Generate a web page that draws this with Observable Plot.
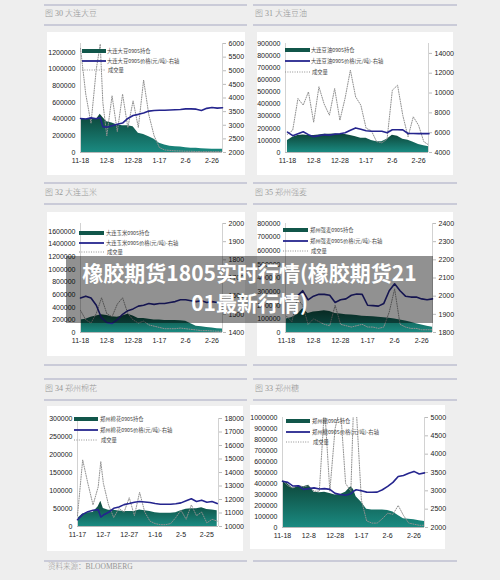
<!DOCTYPE html>
<html><head><meta charset="utf-8">
<script src="https://cdn.jsdelivr.net/npm/d3@7"></script>
<script src="https://cdn.jsdelivr.net/npm/@observablehq/plot@0.6"></script>
<style>
html,body{margin:0;padding:0;}
body{width:500px;height:580px;background:#eeeeee;position:relative;overflow:hidden;font-family:"Noto Sans CJK SC",sans-serif;}
.hr{position:absolute;height:1.5px;background:#cacbd8;}
.ttl{position:absolute;font-size:8px;line-height:10px;color:#959595;white-space:nowrap;font-weight:300;font-family:"Liberation Serif","Noto Sans CJK SC",serif;}
.panel{position:absolute;background:#fff;}
.panel svg{position:absolute;left:0;top:0;}
.band{position:absolute;left:66px;top:256px;width:367px;height:67px;background:rgba(0,0,0,0.43);}
.big{position:absolute;left:66px;top:257px;width:367px;text-align:center;color:#fff;font-weight:bold;font-size:21px;line-height:30px;font-family:"Noto Sans CJK SC",sans-serif;}
</style>
</head><body>
<script>
// ---------- shared tick data ----------
const xTickDays = [0, 20, 40, 60, 80, 100];
const xLabelsA = ["11-18", "12-8", "12-28", "1-17", "2-6", "2-26"];
const xLabelsB = ["11-17", "12-7", "12-27", "1-16", "2-5", "2-25"];
const legendKinds = ["0905持仓", "0905价格(元/吨)-右轴", "成交量"];

// ---------- 图30 大连大豆 ----------
const c1Title = "图 30  大连大豆";
const c1Name = "大连大豆";
const c1Days = [0,4,8,12,15,17,20,24,28,32,36,40,44,48,52,56,60,64,68,72,76,80,84,88,92,96,100,104,108];
const c1Oi = [405,400,400,395,460,420,370,355,330,320,320,310,230,215,190,160,110,90,75,70,65,58,52,50,45,42,40,40,40];
const c1Price = [3250,3230,3270,3240,3280,2950,2930,2980,3040,3080,3250,3360,3400,3450,3520,3540,3550,3550,3560,3570,3580,3600,3600,3590,3540,3620,3650,3630,3640];
const c1Vol = [1250,700,350,1000,1300,600,200,680,250,700,300,620,300,870,450,200,60,30,25,20,18,15,15,12,10,10,10,10,10];
const c1LeftTicks = [0,200000,400000,600000,800000,1000000,1200000];
const c1RightTicks = [2000,2500,3000,3500,4000,4500,5000,5500,6000];

// ---------- 图31 大连豆油 ----------
const c2Title = "图 31  大连豆油";
const c2Name = "大连豆油";
const c2Days = [0,4,8,12,16,20,24,28,32,36,40,44,48,52,56,60,64,68,72,76,80,84,88,92,96,100,104,108];
const c2Oi = [100,125,140,145,140,140,145,150,150,152,150,148,140,130,118,117,100,88,88,110,143,135,110,102,85,66,55,47];
const c2Price = [6050,5700,5900,6090,5800,5600,5700,5800,5750,5850,5900,6000,6250,6480,6350,6200,6150,6150,6150,6000,6300,6300,6280,5920,5920,5900,5900,5900];
const c2Vol = [150,184,446,391,501,250,542,400,308,528,266,450,680,460,390,200,180,90,80,110,514,556,306,130,295,225,90,60];
const c2LeftTicks = [0,100000,200000,300000,400000,500000,600000,700000,800000,900000];
const c2RightTicks = [4000,6000,8000,10000,12000,14000];

// ---------- 图32 大连玉米 ----------
const c3Title = "图 32  大连玉米";
const c3Name = "大连玉米";
const c3Days = [0,4,8,12,16,20,24,28,32,36,40,44,48,52,56,60,64,68,72,76,80,84,88,92,96,100,104,108];
const c3Oi = [200,210,240,260,280,270,250,240,260,290,260,220,220,210,200,200,190,190,190,185,180,140,100,90,80,70,60,55];
const c3Price = [1590,1600,1590,1550,1480,1455,1450,1470,1500,1520,1530,1545,1550,1560,1555,1560,1560,1565,1570,1580,1580,1575,1570,1575,1565,1570,1565,1565];
const c3Vol = [350,200,150,300,550,300,250,450,550,300,200,150,180,120,100,80,60,60,60,70,60,50,40,30,30,25,20,20];
const c3LeftTicks = [0,200000,400000,600000,800000,1000000,1200000,1400000,1600000];
const c3RightTicks = [1400,1500,1600,1700,1800,1900,2000];

// ---------- 图35 郑州强麦 ----------
const c4Title = "图 35  郑州强麦";
const c4Name = "郑州强麦";
const c4Days = [0,4,8,12,16,20,24,28,32,36,40,44,48,52,56,60,64,68,72,76,80,84,88,92,96,100,104,108];
const c4Oi = [100,110,130,175,140,150,155,160,155,140,135,130,128,125,120,118,115,112,108,105,100,92,85,75,65,55,45,38];
const c4Price = [1995,1990,2000,2030,1980,2000,2010,2010,2005,1965,1980,1985,2005,2012,2010,1950,1948,1945,1960,2030,2068,2030,2000,1995,1995,1985,1980,1985];
const c4Vol = [120,80,250,200,60,100,80,60,50,200,60,50,40,50,60,40,40,30,40,150,320,60,40,30,30,20,20,20];
const c4LeftTicks = [0,100000,200000,300000,400000,500000,600000,700000,800000];
const c4RightTicks = [1800,1900,2000,2100,2200,2300,2400];

// ---------- 图34 郑州棉花 ----------
const c5Title = "图 34  郑州棉花";
const c5Name = "郑州棉花";
const c5Days = [0,4,8,12,16,18,20,24,28,32,36,40,44,48,52,56,60,64,68,72,76,80,84,88,92,96,100,104,108];
const c5Oi = [22,35,38,39,55,70,50,45,45,43,42,42,42,46,44,42,38,37,37,37,38,44,48,49,49,52,47,46,44];
const c5Price = [10500,10900,11100,11200,11250,10700,10850,11050,11350,11450,11620,11700,11800,11850,11820,11780,11700,11650,11650,11650,11680,11750,11900,12050,11850,11950,11800,11850,11700];
const c5Vol = [30,185,120,60,110,180,120,60,25,50,40,80,30,95,40,15,8,5,5,8,25,45,20,60,30,40,10,20,15];
const c5LeftTicks = [0,50000,100000,150000,200000,250000,300000];
const c5RightTicks = [10000,11000,12000,13000,14000,15000,16000,17000,18000];

// ---------- 图33 郑州糖 ----------
const c6Title = "图 33  郑州糖";
const c6Name = "郑州糖";
const c6Days = [0,4,8,12,16,20,24,28,32,36,40,44,48,52,54,56,60,64,68,72,76,80,84,88,92,96,100,104,108];
const c6Oi = [425,395,355,380,370,385,320,315,320,310,295,300,320,370,345,280,230,165,160,160,160,155,140,110,80,75,70,62,55];
const c6Price = [3260,3230,3130,3140,3040,3060,3080,3050,3060,3040,2930,2900,2880,2920,2990,3030,3000,2965,2960,2965,3030,3120,3230,3390,3420,3480,3530,3460,3490];
const c6Vol = [430,380,360,380,370,380,330,330,1100,330,900,1100,400,330,1100,1100,250,60,40,40,80,130,120,200,110,40,30,20,20];
const c6LeftTicks = [0,100000,200000,300000,400000,500000,600000,700000,800000,900000,1000000];
const c6RightTicks = [2000,2500,3000,3500,4000,4500,5000];

const sourceText = "资料来源：BLOOMBERG";
const overlayLines = ["橡胶期货1805实时行情(橡胶期货21", "01最新行情)"];

// ---------- layout helpers ----------
function el(tag, cls, style, text) {
  const e = document.createElement(tag);
  if (cls) e.className = cls;
  Object.assign(e.style, style || {});
  if (text != null) e.textContent = text;
  document.body.appendChild(e);
  return e;
}
function hr(x0, x1, y) { el("div", "hr", {left: x0 + "px", width: (x1 - x0) + "px", top: y + "px"}); }

// header lines
[[44,247],[253,457]].forEach(([a,b]) => {
  [4, 24, 182, 203, 364, 378, 399, 560].forEach(y => hr(a, b, y));
});
el("div", "ttl", {left: "45px", top: "9px"}, c1Title);
el("div", "ttl", {left: "255px", top: "9px"}, c2Title);
el("div", "ttl", {left: "45px", top: "188px"}, c3Title);
el("div", "ttl", {left: "255px", top: "188px"}, c4Title);
el("div", "ttl", {left: "45px", top: "384px"}, c5Title);
el("div", "ttl", {left: "255px", top: "384px"}, c6Title);
el("div", "ttl", {left: "48px", top: "562px", fontSize: "7.5px"}, sourceText);

function makeChart(c) {
  const panel = el("div", "panel", {left: c.x + "px", top: c.y + "px", width: c.w + "px", height: c.h + "px"});
  const lMax = c.lMax, rMin = c.rMin, rMax = c.rMax;
  const toL = p => (p - rMin) / (rMax - rMin) * lMax;
  const rows = c.days.map((d, i) => ({d, oi: c.oi[i] * 1000, p: toL(c.price[i]), v: c.vol[i] * 1000}));
  const rTicksL = c.rTicks.map(toL);
  const gid = "grad" + c.id;
  const svg = Plot.plot({
    width: c.w, height: c.h,
    marginLeft: c.m[0], marginRight: c.m[1], marginTop: c.m[2], marginBottom: c.m[3],
    style: {fontSize: "7px", fontFamily: "'Liberation Sans', Arial, sans-serif", color: "#222", background: "transparent", overflow: "visible"},
    x: {domain: c.xDomain, axis: null, label: null},
    y: {domain: [0, lMax], axis: null, label: null},
    marks: [
      Plot.areaY(rows, {x: "d", y: "oi", fill: `url(#${gid})`}),
      Plot.ruleY([0], {stroke: "#b8b8b8"}),
      Plot.ruleX(c.xDomain, {stroke: "#d2d2d2"}),
      Plot.lineY(rows, {x: "d", y: "v", stroke: "#909090", strokeWidth: 1, strokeDasharray: "1,1.4", clip: true}),
      Plot.lineY(rows, {x: "d", y: "p", stroke: "#25258e", strokeWidth: 1.6}),
      Plot.axisY({ticks: c.lTicks, tickSize: 0, tickPadding: 5, label: null, tickFormat: d => String(d)}),
      Plot.axisY({anchor: "right", ticks: rTicksL, tickSize: 3, tickPadding: 3, stroke: "#bbb", label: null,
        tickFormat: d => String(c.rTicks[rTicksL.findIndex(t => Math.abs(t - d) < 1e-6)])}),
      Plot.axisX({ticks: xTickDays, tickSize: 0, tickPadding: 6, label: null, tickFormat: d => c.xLabels[xTickDays.indexOf(d)]})
    ]
  });
  const g = d3.select(svg).insert("defs", ":first-child").append("linearGradient")
    .attr("id", gid).attr("x1", 0).attr("y1", 0).attr("x2", 0).attr("y2", 1);
  g.append("stop").attr("offset", "0%").attr("stop-color", "#0d4437");
  g.append("stop").attr("offset", "100%").attr("stop-color", "#1a8a81");
  panel.appendChild(svg);

  // legend
  const L = c.legend;
  const lg = d3.select(panel).append("svg").attr("width", c.w).attr("height", c.h)
    .style("position", "absolute").style("left", 0).style("top", 0);
  lg.append("rect").attr("x", L.x0).attr("y", L.ys[0] - 2).attr("width", L.x1 - L.x0).attr("height", 4).attr("fill", "#11564a");
  lg.append("line").attr("x1", L.x0).attr("x2", L.x1).attr("y1", L.ys[1]).attr("y2", L.ys[1]).attr("stroke", "#25258e").attr("stroke-width", 1.8);
  lg.append("line").attr("x1", L.x0).attr("x2", L.x1).attr("y1", L.ys[2]).attr("y2", L.ys[2]).attr("stroke", "#909090").attr("stroke-width", 1).attr("stroke-dasharray", "1,1.4");
  const labels = [c.name + legendKinds[0], c.name + legendKinds[1], legendKinds[2]];
  labels.forEach((t, i) => {
    lg.append("text").attr("x", L.tx + (i === 2 ? 1 : 0)).attr("y", L.ys[i]).attr("dy", "0.35em")
      .attr("font-size", 5.3).attr("fill", "#444").attr("font-family", "'Noto Sans CJK SC', sans-serif").text(t);
  });
}

makeChart({id: 1, x: 47, y: 32, w: 198, h: 143, m: [33, 23, 11, 23], xDomain: [0, 108],
  days: c1Days, oi: c1Oi, price: c1Price, vol: c1Vol, lMax: 1308000, rMin: 2000, rMax: 6000,
  lTicks: c1LeftTicks, rTicks: c1RightTicks, xLabels: xLabelsA, name: c1Name,
  legend: {x0: 35, x1: 59, ys: [19, 29, 38], tx: 60}});
makeChart({id: 2, x: 257, y: 32, w: 196, h: 143, m: [28, 25, 11, 23], xDomain: [-1.5, 107.6],
  days: c2Days, oi: c2Oi, price: c2Price, vol: c2Vol, lMax: 900000, rMin: 4000, rMax: 15000,
  lTicks: c2LeftTicks, rTicks: c2RightTicks, xLabels: xLabelsA, name: c2Name,
  legend: {x0: 28, x1: 53, ys: [18, 29, 40], tx: 54}});
makeChart({id: 3, x: 47, y: 212, w: 198, h: 144, m: [33, 23, 11, 24], xDomain: [0, 108],
  days: c3Days, oi: c3Oi, price: c3Price, vol: c3Vol, lMax: 1727000, rMin: 1400, rMax: 2000,
  lTicks: c3LeftTicks, rTicks: c3RightTicks, xLabels: xLabelsA, name: c3Name,
  legend: {x0: 32, x1: 57, ys: [21, 31, 40], tx: 59}});
makeChart({id: 4, x: 257, y: 212, w: 196, h: 144, m: [28, 21, 11, 24], xDomain: [-0.7, 108],
  days: c4Days, oi: c4Oi, price: c4Price, vol: c4Vol, lMax: 800000, rMin: 1800, rMax: 2400,
  lTicks: c4LeftTicks, rTicks: c4RightTicks, xLabels: xLabelsA, name: c4Name,
  legend: {x0: 26, x1: 51, ys: [18, 29, 39], tx: 53}});
makeChart({id: 5, x: 47, y: 406, w: 196, h: 145, m: [30, 25, 12, 25], xDomain: [0, 109],
  days: c5Days, oi: c5Oi, price: c5Price, vol: c5Vol, lMax: 300000, rMin: 10000, rMax: 18000,
  lTicks: c5LeftTicks, rTicks: c5RightTicks, xLabels: xLabelsB, name: c5Name,
  legend: {x0: 27, x1: 51, ys: [13, 24, 34], tx: 53}});
makeChart({id: 6, x: 250, y: 405, w: 195, h: 144, m: [32, 21, 12, 22], xDomain: [0, 108],
  days: c6Days, oi: c6Oi, price: c6Price, vol: c6Vol, lMax: 1000000, rMin: 2000, rMax: 5000,
  lTicks: c6LeftTicks, rTicks: c6RightTicks, xLabels: xLabelsA, name: c6Name,
  legend: {x0: 36, x1: 60, ys: [16, 27, 37], tx: 62}});

// overlay banner
el("div", "band", {});
const big = el("div", "big", {});
big.innerHTML = overlayLines.join("<br>");
</script>
</body></html>
